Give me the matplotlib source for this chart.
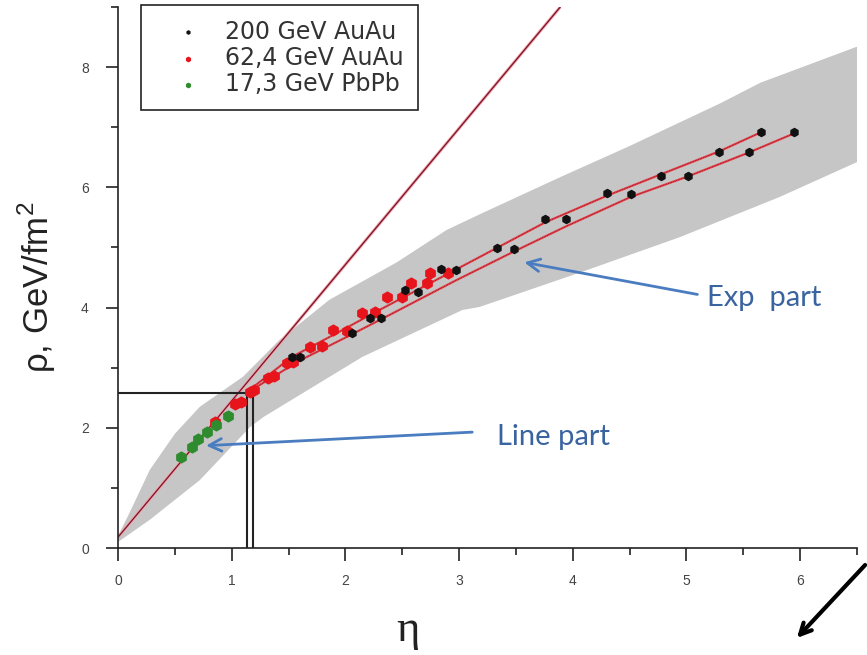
import matplotlib
matplotlib.use("Agg")
from matplotlib import pyplot as plt
from matplotlib.ticker import MultipleLocator

# --- data ---
green_x = [0.55, 0.65, 0.70, 0.78, 0.86, 0.97]
green_y = [1.51, 1.68, 1.82, 1.93, 2.05, 2.20]

red_x = [0.85, 1.03, 1.08, 1.16, 1.20, 1.32, 1.37, 1.49, 1.54, 1.69, 1.79,
         1.89, 2.01, 2.15, 2.26, 2.37, 2.50, 2.58, 2.72, 2.74, 2.90]
red_y = [2.10, 2.40, 2.43, 2.60, 2.63, 2.83, 2.86, 3.08, 3.10, 3.34, 3.36,
         3.63, 3.61, 3.91, 3.93, 4.18, 4.18, 4.41, 4.41, 4.57, 4.57]

black_x = [1.53, 1.60, 2.06, 2.22, 2.31, 2.52, 2.64, 2.84, 2.97, 3.33, 3.48,
           3.76, 3.94, 4.30, 4.51, 4.78, 5.01, 5.29, 5.55, 5.66, 5.95]
black_y = [3.18, 3.18, 3.58, 3.83, 3.83, 4.29, 4.26, 4.64, 4.63, 4.99, 4.97,
           5.47, 5.47, 5.91, 5.89, 6.19, 6.19, 6.59, 6.59, 6.92, 6.92]

# fitted curves (upper / lower)
fit1_x = [1.15, 1.53, 1.9, 2.22, 2.84, 3.33, 3.76, 4.30, 4.78, 5.29, 5.66]
fit1_y = [2.62, 3.18, 3.55, 3.88, 4.50, 4.99, 5.42, 5.86, 6.22, 6.60, 6.92]
fit2_x = [1.15, 1.60, 2.0, 2.31, 2.97, 3.48, 3.94, 4.51, 5.01, 5.55, 5.95]
fit2_y = [2.60, 3.12, 3.50, 3.80, 4.45, 4.93, 5.35, 5.84, 6.18, 6.58, 6.90]

# straight line
line_x = [0.0, 3.89]
line_y = [0.18, 9.0]

# gray band
band_up_x = [0.0, 0.1, 0.28, 0.5, 0.72, 1.1, 1.42, 1.86, 2.45, 2.89, 3.18,
             3.89, 4.48, 5.3, 5.65, 6.5]
band_up_y = [0.2, 0.58, 1.3, 1.9, 2.35, 2.85, 3.46, 4.13, 4.75, 5.29, 5.55,
             6.17, 6.67, 7.4, 7.74, 8.34]
band_lo_x = [0.0, 0.28, 0.72, 1.16, 1.28, 2.15, 3.03, 3.18, 4.06, 4.94, 5.82, 6.5]
band_lo_y = [0.1, 0.47, 1.13, 2.01, 2.18, 3.18, 3.96, 4.01, 4.58, 5.17, 5.84, 6.42]

# black guide lines
guide_y = 2.58
guide_x = [1.135, 1.187]

plt.rcParams['font.family'] = ['Liberation Sans', 'DejaVu Sans']

fig = plt.figure(figsize=(8.67, 6.55), dpi=100)
ax = fig.add_axes([118 / 867, 1 - 548 / 655, 739 / 867, 541 / 655])

# band
poly_x = band_up_x + band_lo_x[::-1]
poly_y = band_up_y + band_lo_y[::-1]
ax.fill(poly_x, poly_y, color='#c6c6c6', lw=0, zorder=1)

# straight line
ax.plot(line_x, line_y, color='#f0a0a8', lw=2.2, zorder=2, solid_capstyle='butt')
ax.plot(line_x, line_y, color='#7a1025', lw=0.9, zorder=2)

# guides
ax.plot([0, guide_x[1]], [guide_y, guide_y], color='#222222', lw=1.5, zorder=3)
for gx in guide_x:
    ax.plot([gx, gx], [0, guide_y], color='#222222', lw=1.5, zorder=3)

# fit curves
for fx, fy in [(fit1_x, fit1_y), (fit2_x, fit2_y)]:
    ax.plot(fx, fy, color='#e8404a', lw=1.6, zorder=4)
    ax.plot(fx, fy, color='#5a0a10', lw=0.5, ls=(0, (1, 1.5)), zorder=4)

# points
ax.scatter(black_x, black_y, s=34, c='#111111', marker='h', zorder=6, label='200 GeV AuAu')
ax.scatter(red_x, red_y, s=60, c='#e8141c', marker='h', zorder=5, label='62,4 GeV AuAu')
ax.scatter(green_x, green_y, s=60, c='#2e8b2e', marker='h', zorder=5, label='17,3 GeV PbPb')

ax.set_xlim(0, 6.5)
ax.set_ylim(0, 9.0)
ax.spines['top'].set_visible(False)
ax.spines['right'].set_visible(False)
for sp in ['left', 'bottom']:
    ax.spines[sp].set_linewidth(1.2)
    ax.spines[sp].set_color('#222222')

ax.xaxis.set_major_locator(MultipleLocator(1))
ax.xaxis.set_minor_locator(MultipleLocator(0.5))
ax.yaxis.set_major_locator(MultipleLocator(2))
ax.yaxis.set_minor_locator(MultipleLocator(1))
ax.tick_params(which='major', direction='out', length=9, width=1.2, color='#222222',
               labelsize=10, labelcolor='#444444')
ax.tick_params(which='minor', direction='out', length=5, width=1.2, color='#222222')
ax.tick_params(axis='x', which='major', pad=10)
ax.tick_params(axis='y', which='major', pad=12)

leg = ax.legend(loc='upper left', bbox_to_anchor=(0.031, 1.003),
                prop={'family': 'DejaVu Sans', 'size': 17},
                frameon=True, fancybox=False, edgecolor='#222222', framealpha=1,
                markerscale=0.4, handletextpad=0.18, borderpad=0.6,
                labelspacing=0.1, borderaxespad=0, handlelength=2.78)
leg.get_frame().set_linewidth(1.2)
for t in leg.get_texts():
    t.set_color('#333333')

fig.text(37 / 867, 1 - 287 / 655, r'ρ, GeV/fm$^{\mathregular{2}}$', rotation=90,
         ha='center', va='center', fontsize=25, color='#222222')
fig.text(408 / 867, 1 - 630 / 655, 'η', ha='center', va='center', fontsize=32,
         family='Liberation Serif', color='#222222')

blue = '#3a64a0'
arrow_blue = '#4a7cc0'
ax.annotate('', xy=(3.55, 4.76), xytext=(5.12, 4.21),
            arrowprops=dict(arrowstyle='->,head_length=0.9,head_width=0.45',
                            color=arrow_blue, lw=2), zorder=7)
ax.text(5.18, 4.16, 'Exp  part', fontsize=21, color=blue, family='Lato',
        ha='left', va='center')
ax.annotate('', xy=(0.75, 1.70), xytext=(3.14, 1.93),
            arrowprops=dict(arrowstyle='->,head_length=0.9,head_width=0.45',
                            color=arrow_blue, lw=2), zorder=7)
ax.text(3.33, 1.85, 'Line part', fontsize=21, color=blue, family='Lato',
        ha='left', va='center')

ax.annotate('', xy=(795 / 867, 1 - 640 / 655), xycoords='figure fraction',
            xytext=(1.0, 1 - 563 / 655), textcoords='figure fraction',
            arrowprops=dict(arrowstyle='->,head_length=0.8,head_width=0.4',
                            color='black', lw=3), annotation_clip=False)

fig.savefig('out.png', dpi=100)
